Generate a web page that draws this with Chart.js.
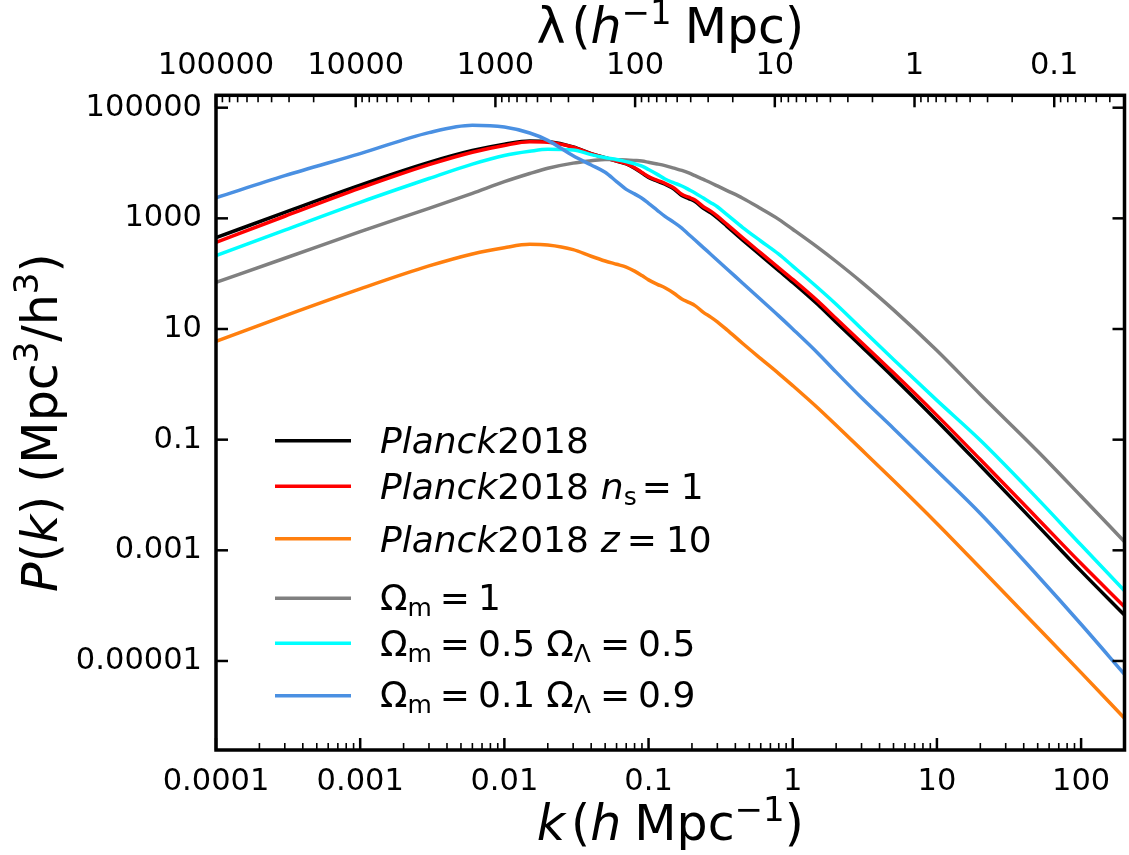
<!DOCTYPE html>
<html>
<head>
<meta charset="utf-8">
<script src="https://cdn.jsdelivr.net/npm/chart.js@4.4.1/dist/chart.umd.min.js"></script>
<style>
html,body{margin:0;padding:0;background:#ffffff;}
#wrap{width:1129px;height:855px;position:relative;}
canvas{display:block;}
</style>
</head>
<body>
<div id="wrap"><canvas id="c" width="1129" height="855" style="width:1129px;height:855px"></canvas></div>
<script>
// ---------- data ----------
const kValues = [0.0001, 0.0003, 0.001, 0.003, 0.006, 0.01, 0.015, 0.02, 0.03, 0.04, 0.05, 0.06, 0.07, 0.08, 0.09, 0.1, 0.115, 0.13, 0.15, 0.17, 0.19, 0.21, 0.24, 0.27, 0.3, 0.35, 0.45, 0.6, 0.8, 1, 1.5, 2, 3, 5, 10, 20, 50, 100, 200];

const planck2018 = [446.7, 1282, 3981, 10233, 16788, 21878, 25119, 24434, 19634, 14825, 12445, 10814, 9616, 8072, 6592, 5508, 4710, 4130, 3388, 2594, 2280, 2023, 1521, 1259, 1019, 718, 405, 214, 113.5, 69.7, 27.4, 13.2, 4.82, 1.334, 0.2203, 0.03404, 0.002799, 0.0004207, 0.0000676];

const planckNs1 = [367.3, 1091, 3516, 9354, 15704, 20797, 24155, 23714, 19320, 14723, 12445, 10889, 9750, 8222, 6761, 5675, 4875, 4295, 3548, 2729, 2410, 2148, 1622, 1349, 1096, 778, 443.6, 237.1, 127.4, 78.9, 31.55, 15.42, 5.71, 1.614, 0.2748, 0.04365, 0.003733, 0.0005768, 0.0000955];

const planckZ10 = [5.957, 17.30, 53.09, 138.0, 227.5, 295.1, 338.8, 329.6, 272.3, 206.5, 169.4, 147.9, 131.8, 111.2, 92.47, 77.27, 64.27, 55.72, 44.36, 34.91, 30.34, 26.49, 20.04, 16.41, 13.49, 9.66, 5.47, 2.917, 1.567, 0.9484, 0.3698, 0.1816, 0.06607, 0.01828, 0.003062, 0.0004786, 0.00004027, 0.000006166, 0.0000009226];

const omegaM1 = [69.82, 190.1, 575.4, 1514, 2838, 4603, 6471, 8054, 9954, 10965, 11614, 11482, 11376, 11117, 10839, 10304, 9616, 8974, 8072, 7345, 6622, 5902, 5047, 4395, 3855, 3177, 2312, 1503, 957.2, 635.3, 295.8, 166.0, 70.47, 22.18, 4.074, 0.6561, 0.06180, 0.009484, 0.001432];

const omegaM05 = [211.3, 613.8, 1950, 5248, 9572, 13709, 16293, 17701, 17219, 14191, 12589, 11614, 10593, 9705, 8770, 7638, 6237, 5129, 4385, 3846, 3311, 2877, 2323, 1923, 1618, 1167, 680.8, 389.9, 224.9, 137.1, 55.08, 27.99, 10.07, 2.812, 0.5129, 0.09750, 0.008511, 0.001245, 0.0001862];

const omegaM01 = [2360, 5902, 14791, 35481, 48195, 44668, 34834, 25704, 13490, 9226, 6808, 4624, 3342, 2767, 2312, 1871, 1396, 1086, 845.3, 668.3, 511.7, 405.5, 295.8, 224.9, 175.0, 121.6, 67.30, 34.12, 17.26, 10.02, 3.622, 1.663, 0.5715, 0.1596, 0.02754, 0.004645, 0.0003475, 0.00004613, 0.000005754];

const seriesColors = ['#000000', '#ff0000', '#ff7f0e', '#808080', '#00ffff', '#4a90e2'];

const xTickLabels = ['0.0001', '0.001', '0.01', '0.1', '1', '10', '100'];
const yTickLabels = ['100000', '1000', '10', '0.1', '0.001', '0.00001'];
const lambdaTickLabels = ['100000', '10000', '1000', '100', '10', '1', '0.1'];

// ---------- helpers ----------
const FAM = '"DejaVu Sans", "Liberation Sans", sans-serif';
function logTicks(min, max, labels) {
  const out = [];
  const lo = Math.floor(Math.log10(min)), hi = Math.ceil(Math.log10(max));
  for (let d = lo; d <= hi; d++) {
    for (let m = 1; m <= 9; m++) {
      const v = Number((m * Math.pow(10, d)).toPrecision(12));
      if (v < min * 0.9999 || v > max * 1.0001) continue;
      const lbl = (m === 1) ? (labels.find(s => Number(s) === v) || '') : '';
      out.push({ value: v, major: m === 1, lbl: lbl });
    }
  }
  return out;
}
function pts(arr) { return kValues.map((k, i) => ({ x: k, y: arr[i] })); }

function drawParts(ctx, parts, x, y, align) {
  let w = 0;
  const items = parts.map(p => {
    if (typeof p === 'number') { w += p; return { gap: p }; }
    const font = (p[2] ? 'italic ' : '') + p[1] + 'px ' + FAM;
    ctx.font = font;
    const ww = ctx.measureText(p[0]).width;
    w += ww;
    return { t: p[0], font: font, w: ww, dy: p[3] || 0 };
  });
  let cx = align === 'center' ? x - w / 2 : x;
  ctx.textAlign = 'left';
  ctx.textBaseline = 'alphabetic';
  for (const it of items) {
    if (it.gap !== undefined) { cx += it.gap; continue; }
    ctx.font = it.font;
    ctx.fillText(it.t, cx, y + it.dy);
    cx += it.w;
  }
}

const legendRows = [
  { color: seriesColors[0], parts: [['Planck', 36, true], ['2018', 36, false]] },
  { color: seriesColors[1], parts: [['Planck', 36, true], ['2018', 36, false], 12, ['n', 36, true], ['s', 25, false, 6], 5, ['=', 36, false], 9, ['1', 36, false]] },
  { color: seriesColors[2], parts: [['Planck', 36, true], ['2018', 36, false], 12, ['z', 36, true], 7, ['=', 36, false], 9, ['10', 36, false]] },
  { color: seriesColors[3], parts: [['Ω', 36, false], ['m', 25, false, 6], 8, ['=', 36, false], 8, ['1', 36, false]] },
  { color: seriesColors[4], parts: [['Ω', 36, false], ['m', 25, false, 6], 8, ['=', 36, false], 8, ['0.5', 36, false], 11, ['Ω', 36, false], ['Λ', 25, false, 6], 9, ['=', 36, false], 8, ['0.5', 36, false]] },
  { color: seriesColors[5], parts: [['Ω', 36, false], ['m', 25, false, 6], 8, ['=', 36, false], 8, ['0.1', 36, false], 11, ['Ω', 36, false], ['Λ', 25, false, 6], 9, ['=', 36, false], 8, ['0.9', 36, false]] }
];
const legendLineY = [440.7, 486.3, 538.7, 598.3, 643.3, 695.7];
const legendBaseY = [453.3, 499.3, 551.7, 610, 656, 706.7];

const framePlugin = {
  id: 'frame',
  afterDraw(chart) {
    const ctx = chart.ctx;
    const a = chart.chartArea;
    const sx = chart.scales.x, sx2 = chart.scales.x2, sy = chart.scales.y;
    ctx.save();
    ctx.strokeStyle = '#000';
    ctx.lineCap = 'butt';
    // bottom ticks (inward)
    sx.ticks.forEach(t => {
      const p = sx.getPixelForValue(t.value);
      const len = t.major ? 12 : 7;
      ctx.lineWidth = t.major ? 2.5 : 1.6;
      ctx.beginPath(); ctx.moveTo(p, a.bottom); ctx.lineTo(p, a.bottom - len); ctx.stroke();
    });
    // top ticks (inward)
    sx2.ticks.forEach(t => {
      const p = sx2.getPixelForValue(t.value);
      const len = t.major ? 12 : 7;
      ctx.lineWidth = t.major ? 2.5 : 1.6;
      ctx.beginPath(); ctx.moveTo(p, a.top); ctx.lineTo(p, a.top + len); ctx.stroke();
    });
    // left and right ticks (inward)
    sy.ticks.forEach(t => {
      const p = sy.getPixelForValue(t.value);
      ctx.lineWidth = 2.5;
      ctx.beginPath(); ctx.moveTo(a.left, p); ctx.lineTo(a.left + 12, p); ctx.stroke();
      ctx.beginPath(); ctx.moveTo(a.right, p); ctx.lineTo(a.right - 12, p); ctx.stroke();
    });
    // frame
    ctx.lineWidth = 3.5;
    ctx.strokeRect(a.left, a.top, a.right - a.left, a.bottom - a.top);

    ctx.fillStyle = '#000';
    // axis titles
    const cxm = (a.left + a.right) / 2;
    drawParts(ctx, [['k', 49, true], 6, ['(', 49, false], ['h', 49, true], 13, ['Mpc', 49, false], ['\u22121', 34, false, -19], [')', 49, false]], cxm, 840, 'center');
    drawParts(ctx, [['\u03bb', 49, false], 6, ['(', 49, false], ['h', 49, true], ['\u22121', 34, false, -19], 13, ['Mpc', 49, false], [')', 49, false]], cxm, 43, 'center');
    ctx.save();
    ctx.translate(57, (a.top + a.bottom) / 2);
    ctx.rotate(-Math.PI / 2);
    drawParts(ctx, [['P', 49, true], ['(', 49, false], ['k', 49, true], [')', 49, false], 13, ['(Mpc', 49, false], ['3', 34, false, -19], ['/h', 49, false], ['3', 34, false, -19], [')', 49, false]], 0, 0, 'center');
    ctx.restore();

    // legend
    legendRows.forEach((row, i) => {
      ctx.strokeStyle = row.color;
      ctx.lineWidth = 3.5;
      ctx.beginPath(); ctx.moveTo(275, legendLineY[i]); ctx.lineTo(351, legendLineY[i]); ctx.stroke();
      ctx.fillStyle = '#000';
      drawParts(ctx, row.parts, 380, legendBaseY[i], 'left');
    });
    ctx.restore();
  }
};

const tickFont = { family: FAM, size: 30.5 };
const labelCb = (value, index, ticks) => (ticks[index] && ticks[index].lbl) ? ticks[index].lbl : '';
const noHPad = s => { s.paddingLeft = 0; s.paddingRight = 0; };

const seriesData = [planck2018, planckNs1, planckZ10, omegaM1, omegaM05, omegaM01];
const drawOrder = [6, 5, 4, 3, 2, 1];

new Chart(document.getElementById('c').getContext('2d'), {
  type: 'line',
  data: {
    datasets: seriesData.map((arr, i) => ({
      data: pts(arr),
      borderColor: seriesColors[i],
      backgroundColor: seriesColors[i],
      borderWidth: 3.5,
      pointRadius: 0,
      fill: false,
      cubicInterpolationMode: 'monotone',
      order: drawOrder[i],
      xAxisID: 'x',
      yAxisID: 'y'
    }))
  },
  options: {
    responsive: false,
    animation: false,
    devicePixelRatio: 1,
    layout: { padding: { left: 0, right: 4.5, top: 0, bottom: 0 } },
    plugins: { legend: { display: false }, tooltip: { enabled: false }, title: { display: false } },
    scales: {
      x: {
        type: 'logarithmic', position: 'bottom', min: 1e-4, max: 200,
        grid: { display: false, drawTicks: false }, border: { display: false },
        afterBuildTicks: s => { s.ticks = logTicks(1e-4, 200, xTickLabels); },
        afterFit: s => { s.height = 105; noHPad(s); },
        ticks: { autoSkip: false, maxRotation: 0, minRotation: 0, padding: 14, font: tickFont, color: '#000', callback: labelCb }
      },
      x2: {
        type: 'logarithmic', position: 'top', reverse: true, min: 0.0314, max: 1e5,
        grid: { display: false, drawTicks: false }, border: { display: false },
        afterBuildTicks: s => { s.ticks = logTicks(0.0314, 1e5, lambdaTickLabels); },
        afterFit: s => { s.height = 95.3; noHPad(s); },
        ticks: { autoSkip: false, maxRotation: 0, minRotation: 0, padding: 11, font: tickFont, color: '#000', callback: labelCb }
      },
      y: {
        type: 'logarithmic', position: 'left', min: 2.46e-7, max: 1.675e5,
        grid: { display: false, drawTicks: false }, border: { display: false },
        afterBuildTicks: s => { s.ticks = yTickLabels.map(l => ({ value: Number(l), major: true, lbl: l })); },
        afterFit: s => { s.width = 216; s.paddingTop = 0; s.paddingBottom = 0; },
        ticks: { autoSkip: false, padding: 14, font: tickFont, color: '#000', callback: labelCb }
      }
    }
  },
  plugins: [framePlugin]
});
</script>
</body>
</html>
